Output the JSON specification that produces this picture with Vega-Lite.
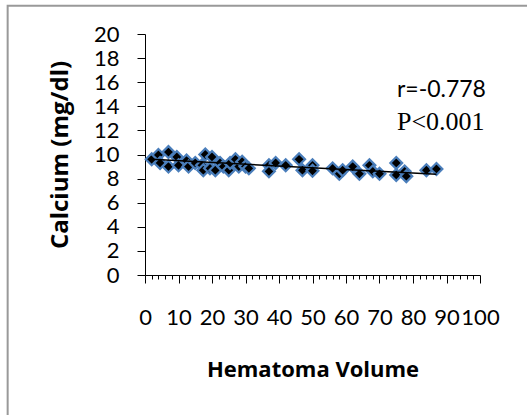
{
  "$schema": "https://vega.github.io/schema/vega-lite/v6.json",
  "width": 335,
  "height": 241,
  "autosize": {"type": "none"},
  "padding": {"left": 145, "top": 34, "right": 47, "bottom": 140},
  "background": "white",
  "config": {"view": {"stroke": null}},
  "datasets": {
    "points": [
      {"volume": 2, "calcium": 9.6},
      {"volume": 4, "calcium": 9.96},
      {"volume": 4.5, "calcium": 9.3},
      {"volume": 7, "calcium": 10.2},
      {"volume": 7, "calcium": 9.0},
      {"volume": 9.5, "calcium": 9.8},
      {"volume": 10, "calcium": 9.1},
      {"volume": 12.4, "calcium": 9.5},
      {"volume": 13, "calcium": 9.0},
      {"volume": 15, "calcium": 9.3},
      {"volume": 17, "calcium": 9.1},
      {"volume": 17.4, "calcium": 8.7},
      {"volume": 18, "calcium": 10.0},
      {"volume": 20, "calcium": 9.8},
      {"volume": 19.4, "calcium": 8.85},
      {"volume": 21, "calcium": 8.7},
      {"volume": 22.4, "calcium": 9.3},
      {"volume": 23.4, "calcium": 9.0},
      {"volume": 25, "calcium": 8.7},
      {"volume": 25.4, "calcium": 9.3},
      {"volume": 27, "calcium": 9.6},
      {"volume": 28, "calcium": 9.0},
      {"volume": 29, "calcium": 9.4},
      {"volume": 30, "calcium": 9.0},
      {"volume": 31, "calcium": 8.85},
      {"volume": 37, "calcium": 9.1},
      {"volume": 37, "calcium": 8.6},
      {"volume": 39, "calcium": 9.3},
      {"volume": 42, "calcium": 9.1},
      {"volume": 46, "calcium": 9.6},
      {"volume": 47, "calcium": 8.7},
      {"volume": 50, "calcium": 9.1},
      {"volume": 50, "calcium": 8.65},
      {"volume": 56, "calcium": 8.85},
      {"volume": 58, "calcium": 8.4},
      {"volume": 59, "calcium": 8.7},
      {"volume": 62, "calcium": 9.0},
      {"volume": 64, "calcium": 8.4},
      {"volume": 67, "calcium": 9.1},
      {"volume": 68, "calcium": 8.6},
      {"volume": 70, "calcium": 8.4},
      {"volume": 75, "calcium": 9.3},
      {"volume": 75, "calcium": 8.3},
      {"volume": 77.5, "calcium": 8.6},
      {"volume": 78, "calcium": 8.2},
      {"volume": 84, "calcium": 8.7},
      {"volume": 87, "calcium": 8.8}
    ],
    "trend": [
      {"volume": 2, "calcium": 9.6},
      {"volume": 87, "calcium": 8.36}
    ],
    "notes": [
      {"volume": 75.2, "calcium": 15.35, "label": "r=-0.778", "kind": "r"},
      {"volume": 75.2, "calcium": 12.7, "label": "P<0.001", "kind": "p"}
    ]
  },
  "layer": [
    {
      "encoding": {
        "x": {
          "field": "volume", "type": "quantitative",
          "scale": {"domain": [0, 100], "nice": false, "zero": true},
          "axis": {
            "title": "Hematoma Volume",
            "tickCount": 50,
            "labelExpr": "datum.value % 10 === 0 ? datum.label : ''",
            "labelOverlap": false,
            "labelFlush": false,
            "labelFont": "Lato",
            "labelFontSize": 22,
            "labelColor": "black",
            "labelPadding": 24,
            "tickSize": {"condition": {"test": "datum.value % 10 === 0", "value": 8}, "value": 4},
            "tickColor": "black",
            "domainColor": "black",
            "grid": false,
            "titleFont": "Open Sans",
            "titleFontWeight": "bold",
            "titleFontSize": 22,
            "titleColor": "black",
            "titlePadding": 31
          }
        },
        "y": {
          "field": "calcium", "type": "quantitative",
          "scale": {"domain": [0, 20], "nice": false},
          "axis": {
            "title": "Calcium (mg/dl)",
            "tickCount": 10,
            "labelOverlap": false,
            "labelFont": "Lato",
            "labelFontSize": 22,
            "labelColor": "black",
            "labelPadding": 18,
            "tickSize": 8,
            "tickColor": "black",
            "domainColor": "black",
            "grid": false,
            "titleFont": "Open Sans",
            "titleFontWeight": "bold",
            "titleFontSize": 24,
            "titleColor": "black",
            "titlePadding": 21
          }
        }
      },
      "layer": [
        {
          "data": {"name": "points"},
          "mark": {"type": "point", "shape": "diamond", "filled": true, "fill": "black", "stroke": "#4a7ebb", "strokeWidth": 2.2, "size": 140, "opacity": 1}
        },
        {
          "data": {"name": "trend"},
          "mark": {"type": "line", "color": "black", "strokeWidth": 1.5}
        },
        {
          "data": {"name": "notes"},
          "transform": [{"filter": "datum.kind === 'r'"}],
          "mark": {"type": "text", "align": "left", "baseline": "middle", "font": "Lato", "fontSize": 23, "color": "black"},
          "encoding": {"text": {"field": "label"}}
        },
        {
          "data": {"name": "notes"},
          "transform": [{"filter": "datum.kind === 'p'"}],
          "mark": {"type": "text", "align": "left", "baseline": "middle", "font": "Liberation Serif", "fontSize": 26, "color": "black"},
          "encoding": {"text": {"field": "label"}}
        }
      ]
    },
    {
      "data": {"values": [{}]},
      "mark": {"type": "rect", "fill": null, "stroke": "#999999", "strokeWidth": 2, "clip": false},
      "encoding": {
        "x": {
          "datum": -41, "type": "quantitative",
          "axis": {
            "title": "Hematoma Volume",
            "tickCount": 50,
            "labelExpr": "datum.value % 10 === 0 ? datum.label : ''",
            "labelOverlap": false,
            "labelFlush": false,
            "labelFont": "Lato",
            "labelFontSize": 22,
            "labelColor": "black",
            "labelPadding": 24,
            "tickSize": {"condition": {"test": "datum.value % 10 === 0", "value": 8}, "value": 4},
            "tickColor": "black",
            "domainColor": "black",
            "grid": false,
            "titleFont": "Open Sans",
            "titleFontWeight": "bold",
            "titleFontSize": 22,
            "titleColor": "black",
            "titlePadding": 31
          }
        },
        "x2": {"datum": 120},
        "y": {
          "datum": 22.35, "type": "quantitative",
          "axis": {
            "title": "Calcium (mg/dl)",
            "tickCount": 10,
            "labelOverlap": false,
            "labelFont": "Lato",
            "labelFontSize": 22,
            "labelColor": "black",
            "labelPadding": 18,
            "tickSize": 8,
            "tickColor": "black",
            "domainColor": "black",
            "grid": false,
            "titleFont": "Open Sans",
            "titleFontWeight": "bold",
            "titleFontSize": 24,
            "titleColor": "black",
            "titlePadding": 21
          }
        },
        "y2": {"datum": -14}
      }
    }
  ]
}
